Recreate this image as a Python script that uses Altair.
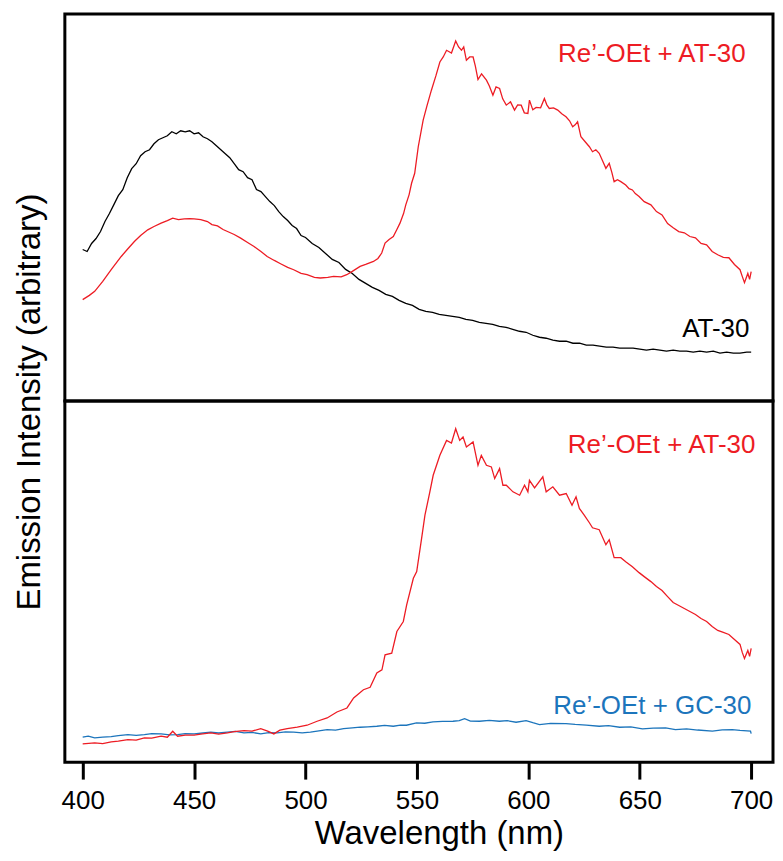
import altair as alt
import pandas as pd

# ---------------- data ----------------
# Top panel: AT-30 alone (black)
top_black_nm = [400, 402, 404, 406, 408, 410, 412, 414, 416, 418, 420, 422, 424, 426, 428, 430, 432, 434, 436, 438,
                440, 442, 444, 446, 448, 450, 452, 454, 456, 458, 460, 462, 464, 466, 468, 470, 472, 474, 476, 478,
                480, 482, 484, 486, 488, 490, 492, 494, 496, 498, 500, 503, 506, 509, 512, 515, 518, 521, 524, 527,
                530, 533, 536, 539, 542, 545, 548, 551, 554, 557, 560, 563, 566, 569, 572, 575, 578, 581, 584, 587,
                590, 593, 596, 599, 602, 605, 608, 611, 614, 617, 620, 623, 626, 629, 632, 635, 638, 641, 644, 647,
                650, 653, 656, 659, 662, 665, 668, 671, 674, 677, 680, 683, 686, 689, 692, 695, 698, 700]
top_black_val = [152, 150, 158, 163, 170, 180, 188, 197, 206, 212, 224, 233, 238, 246, 250, 252, 258, 262, 264, 266,
                 270, 268, 271, 270, 271, 268, 269, 265, 263, 260, 256, 252, 248, 244, 238, 232, 230, 224, 222, 212,
                 210, 205, 200, 196, 190, 185, 181, 176, 173, 166, 164, 158, 154, 148, 142, 139, 132, 128, 122, 118,
                 114, 111, 107, 105, 101, 98, 96, 92, 90, 89, 87, 86, 85, 84, 82, 81, 79, 78, 77, 75,
                 74, 72, 70, 69, 66, 64, 63, 61, 60, 60, 58, 58, 56, 56, 55, 54, 54, 53, 53, 53,
                 52, 51, 52, 51, 50, 51, 50, 50, 49, 50, 49, 50, 48, 49, 48, 48, 49, 49]

# Top panel: Re'-OEt + AT-30 (red)
top_red_nm = [400, 403, 405.4, 409, 412.8, 417.3, 420, 423.2, 426, 429.2, 432, 435.2, 438, 440.4, 443, 445.6, 448, 450,
              453, 456, 458, 460.5, 463, 465, 468, 470.9, 474, 476.9, 480, 482.8, 486, 488.8, 492, 494.7, 498, 500.7,
              504, 506.6, 510, 512.6, 516, 518.5, 521, 524.5, 527, 530.5, 532.5, 534.2, 535.7, 537.5, 539.4, 541,
              542.4, 544, 545, 546.5, 547.6, 549, 550.6, 552.8, 554.5, 556.5, 558.5, 560.3, 561.8, 563.3, 565.5,
              567.4, 568.7, 570, 571, 572.2, 573.7, 575.2, 576.2, 577.4, 579, 581.2, 582.5, 584.1, 585.5, 587.1,
              588.5, 590.1, 592, 593.8, 595.2, 596.8, 598.2, 599.8, 600.5, 602, 603.5, 605.5, 607.2, 608.3, 609.4,
              611.3, 613.2, 615, 616.9, 618.5, 619.9, 621, 622.1, 623.6, 625.5, 627.4, 628.8, 630.3, 631.8, 633.3,
              634.8, 636.3, 637.5, 638.5, 640, 641.5, 643.7, 645.2, 646.7, 648, 649.7, 652, 655, 657.5, 660, 662.5,
              665, 667.5, 670, 672.5, 675, 677.5, 680, 682.5, 685, 687.5, 690, 692.5, 695, 696, 697, 698.5, 699.3, 700]
top_red_val = [101.7, 106, 110, 120, 131.7, 145, 152, 160, 166, 171.7, 175, 178.4, 181, 183.4, 182, 182.7, 183, 182.7,
               182, 180, 177, 175.7, 172, 170, 167, 163.4, 159, 155, 150, 145, 141, 137.7, 134, 131.7, 128, 126.7,
               124, 123.4, 124, 125, 124.5, 126.7, 130, 135, 137, 140, 143, 148.4, 158.4, 162, 165, 172,
               178.4, 188, 196.7, 207, 218.4, 228.4, 255, 281.7, 296, 311.7, 326, 340, 345, 351.7, 349,
               361, 355, 351.7, 355, 341.7, 345, 345, 336, 322.4, 328, 321.7, 316, 306.7, 315, 313.4,
               303, 296.7, 300, 291.7, 297, 296.7, 289, 288.4, 301.7, 292, 294.4, 294, 303.4, 297, 293.4,
               294, 291.7, 288, 285, 281, 275, 277, 280, 265, 260, 255, 250, 252, 248.4, 241,
               233.4, 238.4, 229, 220, 222, 220, 216.7, 213, 211.7, 208, 205, 200, 196.7, 190, 186.7, 178,
               173.7, 170, 168.7, 165, 163.7, 158, 156.7, 150, 146.7, 144, 143.7, 137, 131.7, 125, 118.7, 128, 122, 129.7]

# Bottom panel: Re'-OEt + AT-30 (red)
bot_red_nm = [400, 405.4, 409, 412.8, 416, 420.3, 424, 427.7, 431, 435.2, 438, 440.4, 442.6, 446, 450, 453, 457.5,
              461, 465, 468, 472.4, 476, 479.9, 483, 485.8, 488.5, 491.8, 496.3, 500.7, 505.2, 509.7, 514.1, 518.6,
              521.6, 526, 529, 532, 534.3, 535.7, 538.7, 541, 543.9, 545.4, 548.4, 549.9, 552.1, 553.6, 555.8,
              557.3, 560.3, 563.3, 565.5, 567.4, 569.2, 570.7, 572.2, 575.2, 577.4, 578.9, 581.2, 583.4, 584.9,
              587.1, 588.6, 590.1, 593.1, 596.1, 598.3, 599.8, 600.5, 602.8, 606.5, 608, 611, 614, 617, 619.6,
              621.4, 622.9, 625, 627.4, 628.8, 631.8, 634.8, 636.3, 638.5, 641.5, 643.7, 646.7, 649.7, 652, 655,
              657.5, 660, 662.5, 665, 667.5, 670, 672.5, 675, 677.5, 680, 682.5, 685, 687.5, 690, 692.5, 695, 696,
              697, 698.5, 699.3, 700]
bot_red_val = [18.3, 19.3, 18.5, 20.3, 21, 22.6, 22, 24.3, 24, 26, 25, 31, 26, 27, 27, 28, 29.3,
               28, 29.3, 30.5, 31.6, 31, 33.6, 31, 28.3, 32, 33.6, 35, 37, 41, 44.3, 50.3, 54.3,
               64.3, 72.6, 75, 89.3, 92.6, 107.6, 109.3, 131, 141, 157.6, 184.3, 191, 224.3, 247.6, 271,
               287.6, 307.6, 322.6, 320, 334.3, 322.6, 326, 316, 321, 297.6, 307.6, 297.6, 296, 284.3,
               294.3, 277.6, 277.6, 271, 267.6, 277.6, 271, 282.6, 275, 286, 271, 276, 267.6, 269.3, 257.6,
               266, 254.3, 248, 240, 235, 233, 218, 223, 205, 205, 201, 196, 190, 186, 181,
               176, 172, 166, 160, 157, 154, 151, 148, 144, 141, 136, 132, 130, 128, 123, 118, 110,
               104, 112, 106, 114]

# Bottom panel: Re'-OEt + GC-30 (blue)
bot_blue_nm = [400, 402.5, 405.4, 409, 412.8, 416, 420.3, 424, 427.7, 431, 435.2, 439, 442.6, 446, 450, 454,
               457.5, 461, 465, 468.5, 472.4, 476, 479.9, 483.5, 487.3, 491, 494.7, 498.5, 502.2, 506, 509.7,
               513.5, 517.1, 521, 524.5, 528, 532, 535.5, 539.4, 542.6, 545.3, 549.8, 553.5, 557.2, 561.5,
               566.2, 569, 571.4, 574, 578.1, 582.5, 587, 590.5, 594.5, 599, 602, 605, 610, 616.9, 621, 626,
               631.8, 636, 641, 646, 651.2, 656, 661.6, 666, 671, 676, 682.6, 687, 691.5, 695, 699.7, 700]
bot_blue_val = [25, 26, 24.3, 25, 25.6, 26.5, 27.6, 26.8, 27.6, 28.5, 28.3, 27.4, 27.6, 28.6, 28.3, 29.2,
                30, 29.2, 30, 30.8, 29.3, 29.8, 28.3, 29.5, 29.3, 30.4, 30, 29.4, 30, 31.3, 32.6,
                32, 33.6, 34.4, 35, 35.4, 36, 36.8, 36, 37, 37, 39.3, 39, 40.3, 40.8,
                41, 41.6, 43.6, 41.2, 41, 41.8, 41, 41.6, 40, 41.6, 39.5, 37.6, 38.8, 38.6, 37.8, 37.2,
                36, 36.6, 35, 35.4, 33.3, 34.2, 34.3, 32.6, 33.4, 32.2, 31, 32.4, 32.6, 31.8, 31, 28.6]

# Curve labels
top_label_text = ["Re\u2019-OEt + AT-30", "AT-30"]
top_label_nm = [697.5, 699.2]
top_label_val = [339.7, 64.7]
top_label_color = ["#ED1C24", "#000000"]
bot_label_text = ["Re\u2019-OEt + AT-30", "Re\u2019-OEt + GC-30"]
bot_label_nm = [701.9, 700.1]
bot_label_val = [310.3, 48.3]
bot_label_color = ["#ED1C24", "#1C75BC"]

x_ticks = [400, 450, 500, 550, 600, 650, 700]

RED = "#ED1C24"
BLUE = "#1C75BC"
FONT = "Liberation Sans"

top_black = pd.DataFrame({"nm": top_black_nm, "val": top_black_val})
top_red = pd.DataFrame({"nm": top_red_nm, "val": top_red_val})
bot_red = pd.DataFrame({"nm": bot_red_nm, "val": bot_red_val})
bot_blue = pd.DataFrame({"nm": bot_blue_nm, "val": bot_blue_val})
top_labels = pd.DataFrame({"nm": top_label_nm, "val": top_label_val, "text": top_label_text, "color": top_label_color})
bot_labels = pd.DataFrame({"nm": bot_label_nm, "val": bot_label_val, "text": bot_label_text, "color": bot_label_color})

W = 710
H_TOP = 388
H_BOT = 362

x_scale = alt.Scale(domain=[392, 709.8], nice=False, zero=False)
y_top_scale = alt.Scale(domain=[0, H_TOP], nice=False, zero=False)
y_bot_scale = alt.Scale(domain=[0, H_BOT], nice=False, zero=False)

y_title_axis = alt.Axis(
    title="Emission Intensity (arbitrary)", labels=False, ticks=False, domain=False, grid=False,
    titleFont=FONT, titleFontSize=33, titleFontWeight="normal", titleColor="black",
    titleX=-35, titleY=388.5, titleAngle=270, titleAlign="center", titleBaseline="middle",
)

x_axis = alt.Axis(
    values=x_ticks, format="d", tickSize=17, tickWidth=3, tickColor="black", domain=False, grid=False,
    labelFont=FONT, labelFontSize=26, labelColor="black", labelBaseline="alphabetic", labelPadding=29,
    labelFlush=False,
    title="Wavelength (nm)", titleFont=FONT, titleFontSize=33, titleFontWeight="normal", titleColor="black",
    titleX=375, titleY=82, titleAlign="center", titleBaseline="alphabetic",
)

# top panel: x has no axis, y carries the shared title
tx = alt.X("nm:Q", scale=x_scale, axis=None)
ty = alt.Y("val:Q", scale=y_top_scale, axis=y_title_axis)

top_base = alt.Chart(top_black).mark_line(color="black", strokeWidth=1.3, clip=True).encode(x=tx, y=ty)
top_r = alt.Chart(top_red).mark_line(color=RED, strokeWidth=1.3, clip=True).encode(x=tx, y=ty)
top_txt = alt.Chart(top_labels).mark_text(align="right", baseline="alphabetic", font=FONT, fontSize=26).encode(
    x=tx, y=ty, text="text:N", color=alt.Color("color:N", scale=None),
)
top = alt.layer(top_base, top_r, top_txt).properties(width=W, height=H_TOP)

# bottom panel: x axis with ticks, no y axis
bx = alt.X("nm:Q", scale=x_scale, axis=x_axis)
by = alt.Y("val:Q", scale=y_bot_scale, axis=None)

bot_b = alt.Chart(bot_blue).mark_line(color=BLUE, strokeWidth=1.3, clip=True).encode(x=bx, y=by)
bot_r = alt.Chart(bot_red).mark_line(color=RED, strokeWidth=1.3, clip=True).encode(x=bx, y=by)
bot_txt = alt.Chart(bot_labels).mark_text(align="right", baseline="alphabetic", font=FONT, fontSize=26).encode(
    x=bx, y=by, text="text:N", color=alt.Color("color:N", scale=None),
)
bottom = alt.layer(bot_b, bot_r, bot_txt).properties(width=W, height=H_BOT)

chart = alt.vconcat(top, bottom, spacing=0, bounds="flush").resolve_scale(
    x="independent", y="independent"
).resolve_axis(x="independent", y="independent").configure_view(
    stroke="black", strokeWidth=3
).configure_axis(grid=False).properties(
    background="white", padding={"left": 4, "top": 3, "right": 0, "bottom": 0}
)

chart.save("out.html", embed_options={"renderer": "svg", "actions": False})
